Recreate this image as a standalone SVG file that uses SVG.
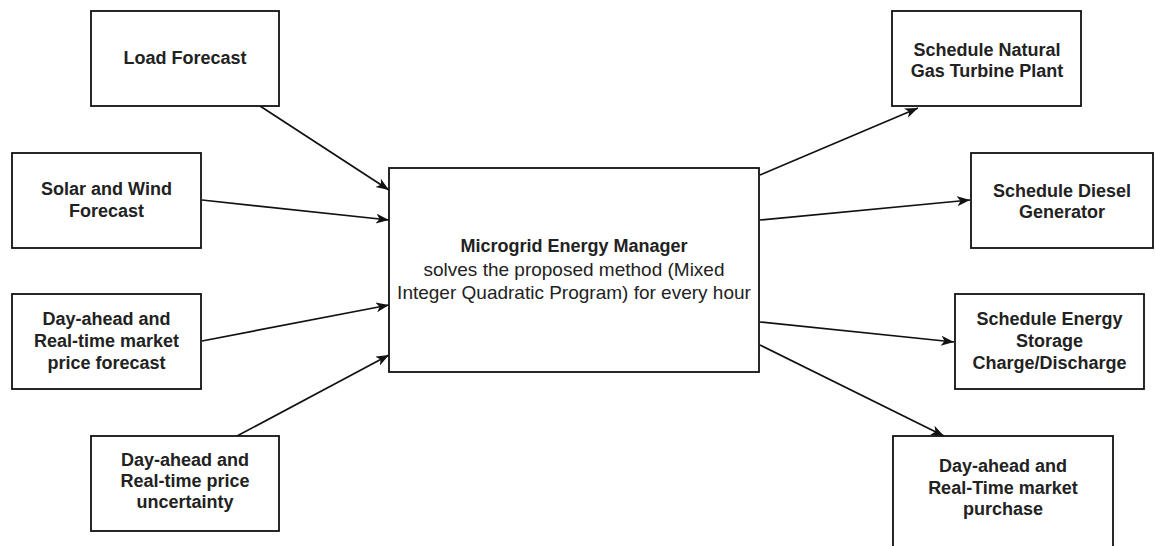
<svg xmlns="http://www.w3.org/2000/svg" width="1155" height="546" viewBox="0 0 1155 546">
<style>
.box{fill:#fff;stroke:#111;stroke-width:1.8}
.t{font-family:"Liberation Sans",Arial,sans-serif;font-size:18px;font-weight:bold;fill:#222;text-anchor:middle}
.r{font-family:"Liberation Sans",Arial,sans-serif;font-size:19px;fill:#222;text-anchor:middle}
.c{fill:none;stroke:#111;stroke-width:1.7}
</style>
<defs>
<marker id="arr" markerUnits="userSpaceOnUse" markerWidth="14" markerHeight="11" refX="13" refY="5" orient="auto">
<path d="M0,0 L13,5 L0,10 L3.5,5 z" fill="#111"/>
</marker>
</defs>
<rect width="1155" height="546" fill="#fff"/>
<g id="connectors">
<line class="c" x1="260" y1="106" x2="389" y2="190" marker-end="url(#arr)"/>
<line class="c" x1="202" y1="200" x2="389" y2="220" marker-end="url(#arr)"/>
<line class="c" x1="202" y1="341" x2="389" y2="305" marker-end="url(#arr)"/>
<line class="c" x1="237" y1="436" x2="389" y2="355" marker-end="url(#arr)"/>
<line class="c" x1="760" y1="175" x2="918" y2="108" marker-end="url(#arr)"/>
<line class="c" x1="760" y1="220" x2="970" y2="200" marker-end="url(#arr)"/>
<line class="c" x1="760" y1="322" x2="954" y2="342" marker-end="url(#arr)"/>
<line class="c" x1="760" y1="345" x2="944" y2="436" marker-end="url(#arr)"/>
</g>
<g id="load">
<rect class="box" x="91" y="11" width="188" height="95"/>
<text class="t" x="185" y="64">Load Forecast</text>
</g>
<g id="solar">
<rect class="box" x="12" y="153" width="189" height="95"/>
<text class="t" x="106.5" y="195">Solar and Wind</text>
<text class="t" x="106.5" y="217">Forecast</text>
</g>
<g id="market">
<rect class="box" x="12" y="294" width="189" height="95"/>
<text class="t" x="106.5" y="325">Day-ahead and</text>
<text class="t" x="106.5" y="347">Real-time market</text>
<text class="t" x="106.5" y="369">price forecast</text>
</g>
<g id="uncertainty">
<rect class="box" x="91" y="436" width="188" height="95"/>
<text class="t" x="185" y="466">Day-ahead and</text>
<text class="t" x="185" y="487">Real-time price</text>
<text class="t" x="185" y="508">uncertainty</text>
</g>
<g id="manager">
<rect class="box" x="389" y="168" width="370" height="204"/>
<text class="t" x="574" y="252">Microgrid Energy Manager</text>
<text class="r" x="574" y="276">solves the proposed method (Mixed</text>
<text class="r" x="574" y="299">Integer Quadratic Program) for every hour</text>
</g>
<g id="gas">
<rect class="box" x="892" y="11" width="189" height="95"/>
<text class="t" x="987" y="56">Schedule Natural</text>
<text class="t" x="987" y="77">Gas Turbine Plant</text>
</g>
<g id="diesel">
<rect class="box" x="971" y="153" width="182" height="95"/>
<text class="t" x="1062" y="197">Schedule Diesel</text>
<text class="t" x="1062" y="218">Generator</text>
</g>
<g id="storage">
<rect class="box" x="955" y="294" width="189" height="95"/>
<text class="t" x="1049.5" y="325">Schedule Energy</text>
<text class="t" x="1049.5" y="347">Storage</text>
<text class="t" x="1049.5" y="369">Charge/Discharge</text>
</g>
<g id="purchase">
<rect class="box" x="893" y="436" width="220" height="120"/>
<text class="t" x="1003" y="472">Day-ahead and</text>
<text class="t" x="1003" y="494">Real-Time market</text>
<text class="t" x="1003" y="515">purchase</text>
</g>
</svg>
